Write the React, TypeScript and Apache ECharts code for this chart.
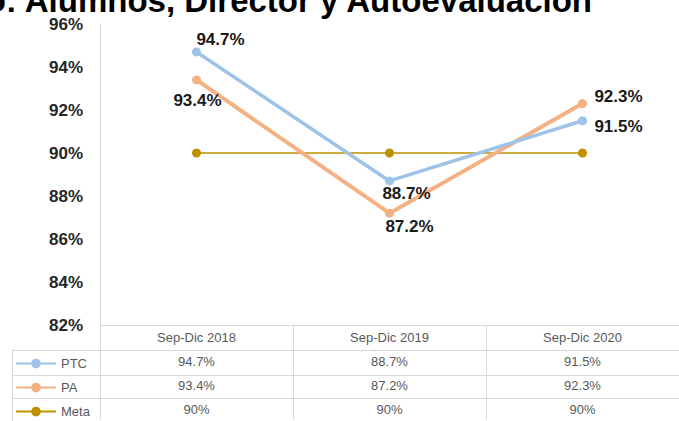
import React, { useEffect, useRef } from "react";
import * as echarts from "echarts";

const categories = ["Sep-Dic 2018", "Sep-Dic 2019", "Sep-Dic 2020"];
const ptcValues = [94.7, 88.7, 91.5];
const paValues = [93.4, 87.2, 92.3];
const metaValues = [90, 90, 90];
const seriesNames = ["PTC", "PA", "Meta"];
const titleText = "Comparativo: Alumnos, Director y Autoevaluación";

// label offsets (layout only)
const ptcLabelOffsets = [[24, -12], [17, 13], [36, 6]];
const paLabelOffsets = [[1, 21], [20, 13], [36, -7]];

const fmt = (v: number) => `${v}%`;

export default function App() {
  const ref = useRef<HTMLDivElement>(null);
  useEffect(() => {
    if (!ref.current) return;
    const chart = echarts.init(ref.current, null, { renderer: "svg" });
    const labelBase = {
      show: true,
      position: "inside",
      align: "center",
      verticalAlign: "middle",
      formatter: (p: any) => fmt(p.value),
      fontFamily: "Liberation Sans, Arial, sans-serif",
      fontWeight: "bold",
      fontSize: 17,
      color: "#1a1a1a",
    };
    const gridColor = "#d9d9d9";
    const tableLineYs = [350, 375, 398];
    chart.setOption({
      animation: false,
      backgroundColor: "#ffffff",
      grid: { left: 100, top: 24, width: 591, height: 302 },
      legend: {
        data: seriesNames,
        orient: "vertical",
        left: 15,
        top: 357,
        padding: 0,
        height: 70,
        itemWidth: 40,
        itemHeight: 12,
        itemGap: 11,
        textStyle: { color: "#595959", fontSize: 13, fontFamily: "Liberation Sans, Arial, sans-serif" },
        selectedMode: false,
      },
      xAxis: {
        type: "category",
        data: categories,
        boundaryGap: true,
        axisLine: { show: true, lineStyle: { color: gridColor, width: 1 } },
        axisTick: { show: true, length: 95, interval: 0, lineStyle: { color: gridColor, width: 1 } },
        axisLabel: {
          interval: 0,
          margin: 0,
          lineHeight: 24,
          fontSize: 13,
          color: "#595959",
          fontFamily: "Liberation Sans, Arial, sans-serif",
          formatter: (value: string, idx: number) =>
            [value, fmt(ptcValues[idx]), fmt(paValues[idx]), fmt(metaValues[idx])].join("\n"),
        },
        splitLine: { show: false },
      },
      yAxis: {
        type: "value",
        min: 82,
        max: 96,
        interval: 2,
        axisLine: { show: true, lineStyle: { color: gridColor, width: 1 } },
        axisTick: { show: false },
        splitLine: { show: false },
        axisLabel: {
          margin: 17,
          formatter: (v: number) => fmt(v),
          fontFamily: "Liberation Sans, Arial, sans-serif",
          fontWeight: "bold",
          fontSize: 17,
          color: "#262626",
        },
      },
      series: [
        {
          name: "PTC",
          type: "line",
          z: 4,
          symbol: "circle",
          symbolSize: 9,
          itemStyle: { color: "#9DC3E6" },
          lineStyle: { color: "#9DC3E6", width: 3.5 },
          label: labelBase,
          data: ptcValues.map((v, i) => ({ value: v, label: { offset: ptcLabelOffsets[i] } })),
        },
        {
          name: "PA",
          type: "line",
          z: 3,
          symbol: "circle",
          symbolSize: 9,
          itemStyle: { color: "#F4B183" },
          lineStyle: { color: "#F4B183", width: 4 },
          label: labelBase,
          data: paValues.map((v, i) => ({ value: v, label: { offset: paLabelOffsets[i] } })),
        },
        {
          name: "Meta",
          type: "line",
          z: 2,
          symbol: "circle",
          symbolSize: 9,
          itemStyle: { color: "#BF9000" },
          lineStyle: { color: "#BF9000", width: 1.5 },
          label: { show: false },
          data: metaValues,
        },
      ],
      graphic: [
        {
          type: "text",
          x: 592,
          y: 17,
          style: {
            text: titleText,
            align: "right",
            verticalAlign: "bottom",
            fontFamily: "Liberation Sans, Arial, sans-serif",
            fontWeight: "bold",
            fontSize: 33,
            fill: "#000000",
          },
        },
        ...tableLineYs.map((y) => ({
          type: "line",
          shape: { x1: 12, y1: y + 0.5, x2: 679, y2: y + 0.5 },
          style: { stroke: gridColor, lineWidth: 1 },
        })),
        {
          type: "line",
          shape: { x1: 12.5, y1: 350, x2: 12.5, y2: 421 },
          style: { stroke: gridColor, lineWidth: 1 },
        },
      ],
    });
    return () => chart.dispose();
  }, []);
  return <div ref={ref} style={{ width: 679, height: 421, position: "absolute", left: 0, top: 0 }} />;
}
